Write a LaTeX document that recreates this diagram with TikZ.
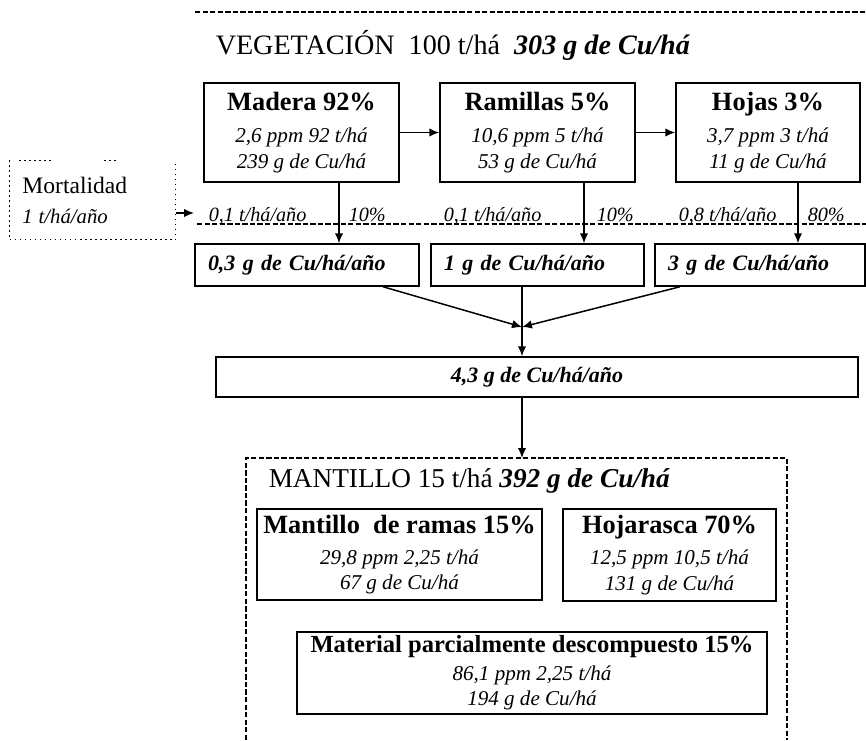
\documentclass[tikz,border=0pt]{standalone}
\usepackage{fontspec}
\setmainfont{Liberation Serif}
\usepackage{tikz}
\usetikzlibrary{arrows.meta}

\newcommand{\cajatit}[1]{{\normalfont\bfseries\fontsize{15}{18}\selectfont #1}}

\begin{document}
\begin{tikzpicture}[x=0.2mm, y=-0.2mm, line width=0.85pt, >={Latex[length=2mm,width=1.7mm]},
  caja/.style={draw, align=center, inner sep=0pt, font=\itshape\fontsize{12}{14.5}\selectfont},
  flujo/.style={draw, align=left, inner xsep=2.6mm, inner ysep=0pt, minimum height=8.4mm, font=\bfseries\itshape\fontsize{12.5}{15}\selectfont},
  etiq/.style={anchor=base west, inner sep=0pt, font=\itshape\fontsize{11.5}{13}\selectfont},
  raya/.style={line width=0.7pt, dash pattern=on 3pt off 1.3pt}]

\useasboundingbox (0,0) rectangle (866,740);

% vegetacion
\draw [raya] (195,12) -- (866,12);
\node [anchor=west, inner sep=0pt, font=\fontsize{16}{19}\selectfont] (veg) at (215,45) {VEGETACIÓN\ \ 100 t/há\ \ \textbf{\textit{303 g de Cu/há}}};

\node [caja, minimum width=39mm, minimum height=19.8mm] (madera) at (301.5,132.5) {\cajatit{Madera 92\%}\\[4pt] 2,6 ppm 92 t/há\\ 239 g de Cu/há};
\node [caja, minimum width=39mm, minimum height=19.8mm] (ramillas) at (537.5,132.5) {\cajatit{Ramillas 5\%}\\[4pt] 10,6 ppm 5 t/há\\ 53 g de Cu/há};
\node [caja, minimum width=36.8mm, minimum height=19.8mm] (hojas) at (768,132.5) {\cajatit{Hojas 3\%}\\[4pt] 3,7 ppm 3 t/há\\ 11 g de Cu/há};

\draw [->] (madera) -- (ramillas);
\draw [->] (ramillas) -- (hojas);

% mortalidad
\node [minimum width=33mm, minimum height=15.6mm, inner xsep=0pt, text width=28mm, align=left] (mort) at (92.5,200) {{\fontsize{13.4}{16}\selectfont Mortalidad}\\[5pt] {\itshape\fontsize{11.8}{14}\selectfont 1 t/há/año}};
\draw [dotted] (mort.north west) -- (mort.south west) -- (mort.south east) -- (mort.north east);
\draw [dotted] (mort.north west) ++(10,0) -- ++(35,0);
\draw [dotted] (mort.north west) ++(95,0) -- ++(12,0);

\coordinate (mfin) at (194,213);
\draw [->] (mort.east |- mfin) -- (mfin);

\coordinate (dini) at (197,224);
\draw [raya] (dini) -- (866,224);

\node [etiq] (l1) at (208,221) {0,1 t/há/año};
\node [etiq] (p1) at (348,221) {10\%};
\node [etiq] (l2) at (443,221) {0,1 t/há/año};
\node [etiq] (p2) at (596,221) {10\%};
\node [etiq] (l3) at (678,221) {0,8 t/há/año};
\node [etiq] (p3) at (807,221) {80\%};

% cobre por año
\node [flujo, text width=39.6mm] (f1) at (307,265) {0,3 g de Cu/há/año};
\node [flujo, text width=37.4mm] (f2) at (537.5,265) {1 g de Cu/há/año};
\node [flujo, text width=36.8mm] (f3) at (760,265) {3 g de Cu/há/año};

\draw [->] ([xshift=7.5mm]madera.south) -- ([xshift=7.5mm]madera.south |- f1.north);
\draw [->] ([xshift=9.3mm]ramillas.south) -- ([xshift=9.3mm]ramillas.south |- f2.north);
\draw [->] ([xshift=6mm]hojas.south) -- ([xshift=6mm]hojas.south |- f3.north);

\coordinate (union) at (522,327);
\draw [->] ([xshift=15.2mm]f1.south) -- (union);
\draw [->] ([xshift=-16mm]f3.south) -- (union);
\draw (union |- f2.south) -- (union);

\node [flujo, align=center, minimum width=128.4mm, minimum height=8mm] (total) at (537,377) {4,3 g de Cu/há/año};
\draw [->] (union) -- (union |- total.north);

% mantillo
\coordinate (mtop) at (522,458);
\draw [->] (union |- total.south) -- (mtop);
\draw [raya] (246,740) -- (246,458) -- (787,458) -- (787,740);

\node [anchor=west, inner sep=0pt, font=\fontsize{15.5}{18}\selectfont] (mant) at (268,481) {MANTILLO 15 t/há \textbf{\textit{392 g de Cu/há}}};

\node [caja, minimum width=57mm, minimum height=18.2mm] (ramas) at (399.5,554.5) {\cajatit{Mantillo\ \ de ramas 15\%}\\[3pt] 29,8 ppm 2,25 t/há\\ 67 g de Cu/há};
\node [caja, minimum width=42.6mm, minimum height=18.4mm] (hojarasca) at (669.5,555) {\cajatit{Hojarasca 70\%}\\[3pt] 12,5 ppm 10,5 t/há\\ 131 g de Cu/há};
\node [caja, minimum width=94mm, minimum height=16.4mm] (material) at (532,673) {{\normalfont\bfseries\fontsize{14}{16}\selectfont Material parcialmente descompuesto 15\%}\\[1pt] 86,1 ppm 2,25 t/há\\ 194 g de Cu/há};

\end{tikzpicture}
\end{document}
